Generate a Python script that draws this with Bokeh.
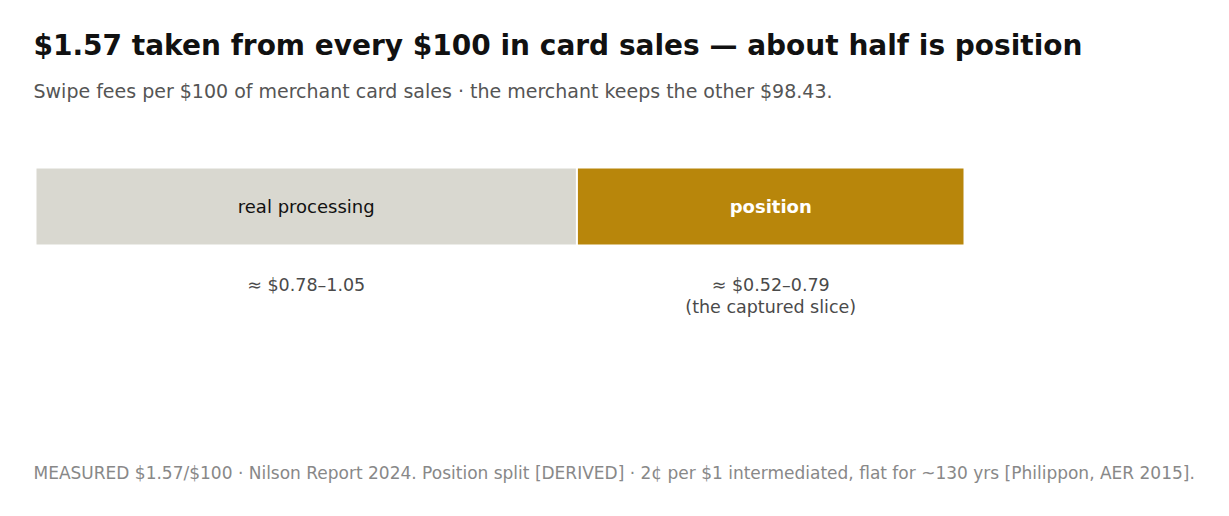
from bokeh.plotting import figure
from bokeh.models import Range1d, Label, ColumnDataSource
from bokeh.core.properties import value
from bokeh.embed import file_html
from bokeh.resources import INLINE

# ---- data ----
segments = ["real processing", "position"]
amounts = [0.915, 0.655]          # $ per $100 (midpoints of ranges)
ranges_txt = ["≈ $0.78–1.05", "≈ $0.52–0.79\n(the captured slice)"]
colors = ["#d9d8d0", "#b8860b"]
label_colors = ["#111111", "#ffffff"]
label_styles = ["normal", "bold"]

title = "$1.57 taken from every $100 in card sales — about half is position"
subtitle = "Swipe fees per $100 of merchant card sales · the merchant keeps the other $98.43."
footer = ("MEASURED $1.57/$100 · Nilson Report 2024. Position split [DERIVED] · "
          "2¢ per $1 intermediated, flat for ~130 yrs [Philippon, AER 2015].")

FONT = "DejaVu Sans"
W, H = 1213, 500

lefts, rights, mids = [], [], []
acc = 0.0
for a in amounts:
    lefts.append(acc)
    rights.append(acc + a)
    mids.append(acc + a / 2)
    acc += a

px_per_unit = 929 / acc
x0 = -35 / px_per_unit
x1 = x0 + W / px_per_unit

p = figure(width=W, height=H, output_backend="svg", toolbar_location=None,
           x_range=Range1d(x0, x1), y_range=Range1d(H, 0),
           min_border=0, outline_line_color=None)
p.axis.visible = False
p.grid.visible = False
p.background_fill_color = "white"
p.border_fill_color = "white"

src = ColumnDataSource(dict(left=lefts, right=rights, mid=mids, name=segments,
                            color=colors, lc=label_colors, ls=label_styles,
                            rng=ranges_txt))

BAR_Y = 206
p.hbar(y=BAR_Y, left="left", right="right", height=78, fill_color="color",
       line_color="white", line_width=2, source=src)

p.text(x="mid", y=BAR_Y, text="name", text_color="lc", text_font_style="ls",
       text_font=value(FONT), text_font_size="18px", text_align="center",
       text_baseline="middle", source=src)

p.text(x="mid", y=274, text="rng", text_color="#4a4a4a",
       text_font=value(FONT), text_font_size="17.5px", text_align="center",
       text_baseline="top", text_line_height=1.12, source=src)

p.add_layout(Label(x=33, y=H - 45, x_units="screen", y_units="screen", text=title,
                   text_font=FONT, text_font_size="28px", text_font_style="bold",
                   text_color="#111111", text_baseline="middle"))
p.add_layout(Label(x=33, y=H - 90, x_units="screen", y_units="screen", text=subtitle,
                   text_font=FONT, text_font_size="19px",
                   text_color="#555555", text_baseline="middle"))
p.add_layout(Label(x=33, y=H - 472, x_units="screen", y_units="screen", text=footer,
                   text_font=FONT, text_font_size="17px",
                   text_color="#888888", text_baseline="middle"))

open("out.html", "w").write(file_html(p, INLINE))
